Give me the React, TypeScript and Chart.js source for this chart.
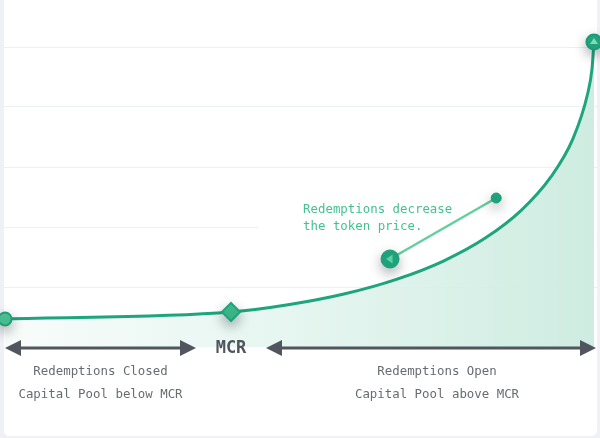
import React, { useEffect, useRef } from "react";
import { Chart, registerables } from "chart.js";

Chart.register(...registerables);

// ---- data (x: capital pool axis, y: token price) ----
const curveX = [0.17, 38.28, 48.16, 57.5, 66.17, 74.1, 81.16, 87.22, 92.19, 95.97, 98.43, 99.16, 99.49];
const curveY = [0.467, 0.583, 0.708, 0.887, 1.127, 1.433, 1.815, 2.277, 2.83, 3.477, 4.225, 4.64, 5.083];
const markerIndex = [0, 1, 12]; // start, MCR, end
const noteX = [65.1, 83.0];
const noteY = [1.467, 2.483];
const yTicks = [0, 1, 2, 3, 4, 5];
const leftLabels = ["Redemptions Closed", "Capital Pool below MCR"];
const rightLabels = ["Redemptions Open", "Capital Pool above MCR"];
const noteLines = ["Redemptions decrease", "the token price."];
const mcrLabel = "MCR";

const GREEN = "#1ea57d";
const MONO = '"DejaVu Sans Mono", "Liberation Mono", monospace';

function roundRect(ctx: CanvasRenderingContext2D, x: number, y: number, w: number, h: number, r: number) {
  ctx.beginPath();
  ctx.moveTo(x + r, y);
  ctx.lineTo(x + w - r, y);
  ctx.quadraticCurveTo(x + w, y, x + w, y + r);
  ctx.lineTo(x + w, y + h - r);
  ctx.quadraticCurveTo(x + w, y + h, x + w - r, y + h);
  ctx.lineTo(x + r, y + h);
  ctx.quadraticCurveTo(x, y + h, x, y + h - r);
  ctx.lineTo(x, y + r);
  ctx.quadraticCurveTo(x, y, x + r, y);
  ctx.closePath();
}

function arrowHead(ctx: CanvasRenderingContext2D, tipX: number, y: number, dir: number) {
  ctx.beginPath();
  ctx.moveTo(tipX, y);
  ctx.lineTo(tipX - dir * 16, y - 8);
  ctx.lineTo(tipX - dir * 16, y + 8);
  ctx.closePath();
  ctx.fill();
}

const decor = {
  id: "decor",
  beforeDraw(chart: any) {
    const { ctx, width, height, chartArea } = chart;
    ctx.save();
    ctx.fillStyle = "#eff1f6";
    ctx.fillRect(0, 0, width, height);
    ctx.fillStyle = "#ffffff";
    roundRect(ctx, chartArea.left, -8, chartArea.right - chartArea.left, height - 2 + 8, 6);
    ctx.fill();
    ctx.restore();
  },
  beforeDatasetsDraw(chart: any) {
    const { ctx, chartArea, scales } = chart;
    const y = scales.y.getPixelForValue(2);
    const x0 = scales.x.getPixelForValue(noteX[0]) - 132;
    ctx.save();
    ctx.fillStyle = "#ffffff";
    ctx.fillRect(x0, y - 8, chartArea.right - x0, 16);
    ctx.restore();
  },
  beforeDatasetDraw(chart: any, args: any) {
    const ds = chart.data.datasets[args.index];
    if (ds.shadow) {
      const ctx = chart.ctx;
      ctx.save();
      ctx.shadowColor = "rgba(30,40,50,0.35)";
      ctx.shadowBlur = 12;
      ctx.shadowOffsetY = 5;
    }
  },
  afterDatasetDraw(chart: any, args: any) {
    const ds = chart.data.datasets[args.index];
    if (ds.shadow) chart.ctx.restore();
  },
  afterDatasetsDraw(chart: any) {
    const { ctx, chartArea, scales } = chart;
    const xs = scales.x;
    const ys = scales.y;
    ctx.save();
    // triangle inside end circle
    const last = curveX.length - 1;
    const ex = xs.getPixelForValue(curveX[last]);
    const ey = ys.getPixelForValue(curveY[last]);
    ctx.fillStyle = "#7fdcb3";
    ctx.beginPath();
    ctx.moveTo(ex, ey - 4);
    ctx.lineTo(ex + 4, ey + 2);
    ctx.lineTo(ex - 4, ey + 2);
    ctx.closePath();
    ctx.fill();
    // triangle inside note circle
    const nx = xs.getPixelForValue(noteX[0]);
    const ny = ys.getPixelForValue(noteY[0]);
    ctx.fillStyle = "#5fd19f";
    ctx.beginPath();
    ctx.moveTo(nx - 4, ny);
    ctx.lineTo(nx + 2.5, ny - 4.5);
    ctx.lineTo(nx + 2.5, ny + 4.5);
    ctx.closePath();
    ctx.fill();

    // note text
    ctx.fillStyle = "#45c291";
    ctx.font = `12.4px ${MONO}`;
    ctx.textAlign = "left";
    ctx.textBaseline = "middle";
    const tx = nx - 87;
    ctx.fillText(noteLines[0], tx, ny - 49);
    ctx.fillText(noteLines[1], tx, ny - 32);

    // arrows
    const ay = ys.getPixelForValue(0) + 1;
    const mcr = xs.getPixelForValue(curveX[1]);
    const l0 = chartArea.left + 1;
    const l1 = mcr - 35;
    const r0 = mcr + 35;
    const r1 = chartArea.right - 1;
    ctx.fillStyle = "#51555e";
    ctx.strokeStyle = "#51555e";
    ctx.lineWidth = 3;
    ctx.beginPath();
    ctx.moveTo(l0 + 8, ay);
    ctx.lineTo(l1 - 8, ay);
    ctx.moveTo(r0 + 8, ay);
    ctx.lineTo(r1 - 8, ay);
    ctx.stroke();
    arrowHead(ctx, l0, ay, -1);
    arrowHead(ctx, l1, ay, 1);
    arrowHead(ctx, r0, ay, -1);
    arrowHead(ctx, r1, ay, 1);

    // MCR label
    ctx.fillStyle = "#50545d";
    ctx.font = `bold 17px ${MONO}`;
    ctx.textAlign = "center";
    ctx.fillText(mcrLabel, mcr, ay + 1);

    // region labels
    ctx.fillStyle = "#676b72";
    ctx.font = `12.4px ${MONO}`;
    const lc = (l0 + l1) / 2;
    const rc = (r0 + r1) / 2 + 6;
    ctx.fillText(leftLabels[0], lc, ay + 24);
    ctx.fillText(leftLabels[1], lc, ay + 47);
    ctx.fillText(rightLabels[0], rc, ay + 24);
    ctx.fillText(rightLabels[1], rc, ay + 47);
    ctx.restore();
  },
};

export default function App() {
  const ref = useRef<HTMLCanvasElement | null>(null);
  useEffect(() => {
    if (!ref.current) return;
    const curve = curveX.map((x, i) => ({ x, y: curveY[i] }));
    const markers = markerIndex.map((i) => ({ x: curveX[i], y: curveY[i] }));
    const note = noteX.map((x, i) => ({ x, y: noteY[i] }));
    const chart = new Chart(ref.current, {
      type: "line",
      data: {
        datasets: [
          {
            data: curve,
            borderColor: GREEN,
            borderWidth: 3,
            pointRadius: 0,
            cubicInterpolationMode: "monotone",
            fill: "origin",
            clip: false,
            order: 10,
            backgroundColor: (c: any) => {
              const area = c.chart.chartArea;
              if (!area) return "rgba(210,237,227,0.6)";
              const g = c.chart.ctx.createLinearGradient(area.left, 0, area.right, 0);
              g.addColorStop(0, "rgba(225,244,237,0.25)");
              g.addColorStop(0.45, "rgba(225,244,237,0.8)");
              g.addColorStop(1, "rgba(206,236,225,1)");
              return g;
            },
          } as any,
          {
            data: note,
            borderColor: "#62cf9f",
            borderWidth: 2.5,
            pointRadius: 0,
            fill: false,
            clip: false,
            order: 5,
          } as any,
          {
            data: note,
            showLine: false,
            pointStyle: "circle",
            pointRadius: [9, 5],
            pointBackgroundColor: [GREEN, GREEN],
            pointBorderColor: ["#1b9c75", "#1b9c75"],
            pointBorderWidth: 1,
            clip: false,
            order: 4,
            shadow: true,
          } as any,
          {
            data: markers,
            showLine: false,
            pointStyle: ["circle", "rectRot", "circle"],
            pointRadius: [6.5, 9, 7.5],
            pointBackgroundColor: ["#4ec597", "#3dbf8e", "#25a982"],
            pointBorderColor: ["#1e9f78", "#1da47a", "#1a9b75"],
            pointBorderWidth: 2,
            clip: false,
            order: 1,
            shadow: true,
          } as any,
        ],
      },
      options: {
        animation: false,
        responsive: false,
        layout: { autoPadding: false, padding: { left: 4, right: 3, top: 47, bottom: 91 } },
        plugins: { legend: { display: false }, tooltip: { enabled: false } },
        events: [],
        scales: {
          x: { type: "linear", min: 0, max: 100, display: false },
          y: {
            type: "linear",
            min: 0,
            max: 5,
            afterBuildTicks: (s: any) => {
              s.ticks = yTicks.map((v) => ({ value: v }));
            },
            ticks: { display: false },
            border: { display: false },
            grid: {
              drawTicks: false,
              lineWidth: 1,
              color: (c: any) => (c.tick && c.tick.value === 0 ? "rgba(0,0,0,0)" : "#edf0f3"),
            },
          },
        },
      } as any,
      plugins: [decor],
    });
    return () => chart.destroy();
  }, []);
  return (
    <div style={{ position: "absolute", left: 0, top: 0, width: 600, height: 438 }}>
      <canvas ref={ref} width={600} height={438} />
    </div>
  );
}
